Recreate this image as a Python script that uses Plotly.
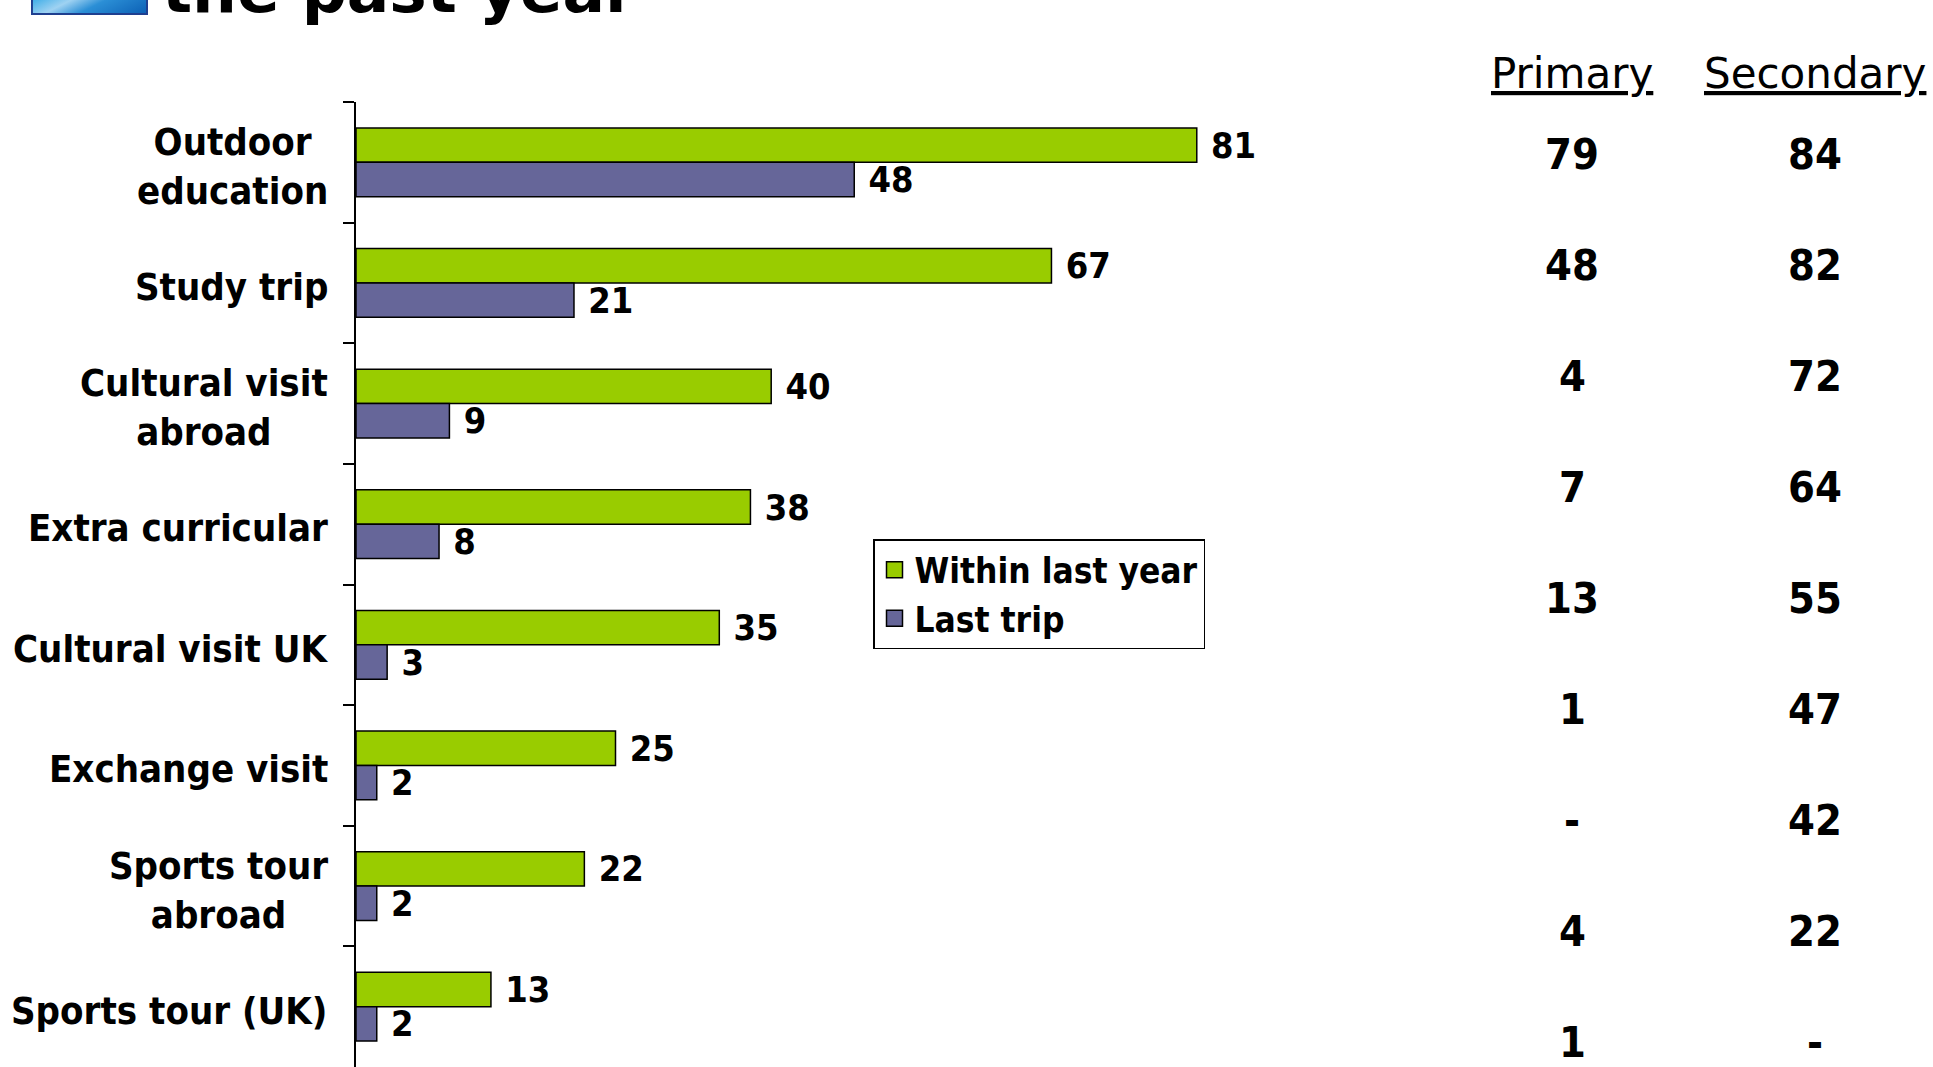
import base64
import plotly.graph_objects as go

# Trip types shown on the chart (top to bottom)
categories = [
    "Outdoor<br>education",
    "Study trip",
    "Cultural visit<br>abroad",
    "Extra curricular",
    "Cultural visit UK",
    "Exchange visit",
    "Sports tour<br>abroad",
    "Sports tour (UK)",
]
within_last_year = [81, 67, 40, 38, 35, 25, 22, 13]
last_trip = [48, 21, 9, 8, 3, 2, 2, 2]

# Side table: share of primary / secondary schools
table_headers = ["Primary", "Secondary"]
primary_pct = ["79", "48", "4", "7", "13", "1", "-", "4", "1"]
secondary_pct = ["84", "82", "72", "64", "55", "47", "42", "22", "-"]

series_names = ["Within last year", "Last trip"]
GREEN = "#99CC00"
PURPLE = "#666699"

BOLD = "DejaVu Sans Condensed, DejaVu Sans, sans-serif"
REG = "DejaVu Sans, Verdana, sans-serif"

W, H = 1933, 1067
ML, MR, MT, MB = 356, 539, 102, 0
PW, PH = W - ML - MR, H - MT - MB


def px_x(px):
    return (px - ML) / PW


def px_y(py):
    return 1 - (py - MT) / PH


fig = go.Figure()

for name, vals, col in [(series_names[0], within_last_year, GREEN),
                        (series_names[1], last_trip, PURPLE)]:
    fig.add_trace(go.Bar(
        y=categories, x=vals, orientation="h", name=name,
        marker=dict(color=col, line=dict(color="#000000", width=1.5)),
        text=[f"\u00a0<b>{v}</b>" for v in vals], textposition="outside",
        textfont=dict(family=BOLD, size=36, color="#000000", weight="bold"),
        constraintext="none", cliponaxis=False, showlegend=False,
    ))

# Legend entries with larger square swatches
for name, col in [(series_names[0], GREEN), (series_names[1], PURPLE)]:
    fig.add_trace(go.Scatter(
        x=[None], y=[None], mode="markers", name=f"<b>{name}</b>",
        marker=dict(symbol="square", size=18, color=col,
                    line=dict(color="#000000", width=1.5)),
    ))

annotations = []

# Category labels, centred lines, right aligned against the axis
for cat in categories:
    annotations.append(dict(
        xref="paper", yref="y", x=0, y=cat, xanchor="right", yanchor="middle",
        xshift=-26, yshift=-4, text=f"<b>{cat}</b>", align="center",
        showarrow=False, font=dict(family=BOLD, size=38, color="#000000"),
    ))

# Table headers and values
col_centres = [1572, 1815]
for hdr, cx in zip(table_headers, col_centres):
    annotations.append(dict(
        xref="paper", yref="paper", x=px_x(cx), y=px_y(74),
        xanchor="center", yanchor="middle", text=hdr, showarrow=False,
        font=dict(family=REG, size=42, color="#000000", lineposition="under"),
    ))
row0, row_step = 154, 111
for col_vals, cx in zip([primary_pct, secondary_pct], col_centres):
    for i, v in enumerate(col_vals):
        annotations.append(dict(
            xref="paper", yref="paper", x=px_x(cx), y=px_y(row0 + i * row_step),
            xanchor="center", yanchor="middle", text=f"<b>{v}</b>",
            showarrow=False,
            font=dict(family=BOLD, size=43, color="#000000"),
        ))

# Heading (only its last line sits inside the page)
annotations.append(dict(
    xref="paper", yref="paper", x=px_x(160), y=px_y(29),
    xanchor="left", yanchor="bottom", text="<b>the past year</b>",
    showarrow=False, font=dict(family=REG, size=63, color="#000000"),
))

# Blue gradient badge next to the heading
svg = (
    '<svg xmlns="http://www.w3.org/2000/svg" width="120" height="60" viewBox="0 0 120 60">'
    '<defs><linearGradient id="g" x1="0" y1="0" x2="1" y2="1">'
    '<stop offset="0" stop-color="#0C8FD8"/>'
    '<stop offset="0.35" stop-color="#2FA8E6"/>'
    '<stop offset="0.55" stop-color="#9FD2F2"/>'
    '<stop offset="0.7" stop-color="#2B8FD6"/>'
    '<stop offset="1" stop-color="#0B5FB4"/>'
    '</linearGradient></defs>'
    '<rect x="1" y="1" width="118" height="58" fill="url(#g)" stroke="#1F3F8F" stroke-width="2"/>'
    '</svg>'
)
badge = "data:image/svg+xml;base64," + base64.b64encode(svg.encode()).decode()

fig.update_layout(
    width=W, height=H,
    margin=dict(l=ML, r=MR, t=MT, b=MB, pad=0),
    paper_bgcolor="#FFFFFF", plot_bgcolor="#FFFFFF",
    barmode="group", bargap=0.43, bargroupgap=0,
    xaxis=dict(range=[0, 100], visible=False, fixedrange=True),
    yaxis=dict(
        type="category", autorange="reversed", showgrid=False, zeroline=False,
        showline=True, linecolor="#000000", linewidth=1.5,
        ticks="outside", tickson="boundaries", ticklen=11, tickwidth=1.5,
        tickcolor="#000000", showticklabels=False,
    ),
    legend=dict(
        x=px_x(873), y=px_y(539), xanchor="left", yanchor="top",
        bgcolor="#FFFFFF", bordercolor="#000000", borderwidth=1.5,
        font=dict(family=BOLD, size=35, color="#000000"),
        itemclick=False, itemdoubleclick=False,
    ),
    showlegend=True,
    annotations=annotations,
    images=[dict(
        source=badge, xref="paper", yref="paper",
        x=px_x(31), y=px_y(-45), sizex=(148 - 31) / PW, sizey=(60) / PH,
        xanchor="left", yanchor="top", sizing="stretch", layer="above",
    )],
)

fig.write_html("out.html")
